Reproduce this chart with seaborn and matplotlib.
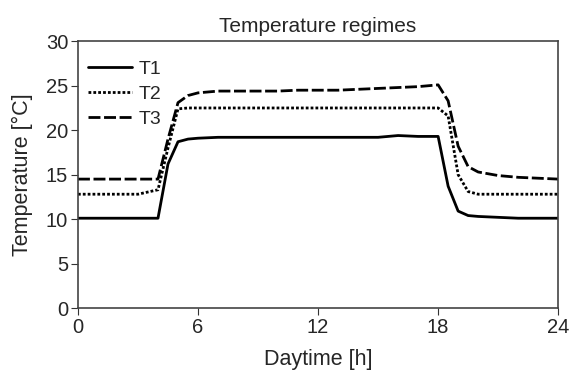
import matplotlib
matplotlib.use("Agg")
import matplotlib.pyplot as plt
import seaborn as sns
import pandas as pd

# Hora do dia (h) e temperaturas
hours = [0, 1, 2, 3, 4, 4.5, 5, 5.5, 6, 7, 8, 9, 10, 11, 12, 13, 14, 15, 16, 17, 18,
         18.5, 19, 19.5, 20, 21, 22, 23, 24]
t1 = [10.1, 10.1, 10.1, 10.1, 10.1, 16.2, 18.7, 19.0, 19.1, 19.2, 19.2, 19.2, 19.2, 19.2,
      19.2, 19.2, 19.2, 19.2, 19.4, 19.3, 19.3, 13.7, 10.9, 10.4, 10.3, 10.2, 10.1, 10.1, 10.1]
t2 = [12.8, 12.8, 12.8, 12.8, 13.3, 18.0, 22.4, 22.5, 22.5, 22.5, 22.5, 22.5, 22.5, 22.5,
      22.5, 22.5, 22.5, 22.5, 22.5, 22.5, 22.5, 21.6, 15.0, 13.1, 12.8, 12.8, 12.8, 12.8, 12.8]
t3 = [14.5, 14.5, 14.5, 14.5, 14.5, 19.0, 23.1, 23.9, 24.2, 24.4, 24.4, 24.4, 24.4, 24.5,
      24.5, 24.5, 24.6, 24.7, 24.8, 24.9, 25.1, 23.3, 18.2, 15.9, 15.3, 14.9, 14.7, 14.6, 14.5]

df = pd.DataFrame({"Daytime": hours * 3,
                   "Temp": t1 + t2 + t3,
                   "Regime": ["T1"] * len(hours) + ["T2"] * len(hours) + ["T3"] * len(hours)})

sns.set_style("ticks")
plt.rcParams["font.family"] = ["Liberation Sans", "DejaVu Sans"]

fig = plt.figure(figsize=(5.69, 3.72), dpi=100)
ax = fig.add_axes([0.137, 0.172, 0.844, 0.717])
sns.lineplot(data=df, x="Daytime", y="Temp", style="Regime",
             dashes={"T1": "", "T2": (1, 0.75), "T3": (4.3, 1.3)},
             color="black", linewidth=2.0, ax=ax)

ax.set_xlim(0, 24)
ax.set_ylim(0, 30)
ax.set_xticks([0, 6, 12, 18, 24])
ax.set_yticks(range(0, 31, 5))
ax.tick_params(labelsize=14.5, length=5, color="#333333", pad=2)
for s in ax.spines.values():
    s.set_color("#444444")
    s.set_linewidth(1.2)
ax.set_xlabel("Daytime [h]", fontsize=15.5, labelpad=9)
ax.set_ylabel("Temperature [°C]", fontsize=15.5, labelpad=9)
ax.set_title("Temperature regimes", fontsize=15, pad=7)
ax.legend(loc="upper left", bbox_to_anchor=(0, 0.965), frameon=False, fontsize=14,
          handlelength=2.3, handletextpad=0.3, labelspacing=0.38,
          borderaxespad=0.3, borderpad=0.2)

fig.savefig("out.png", dpi=100)
